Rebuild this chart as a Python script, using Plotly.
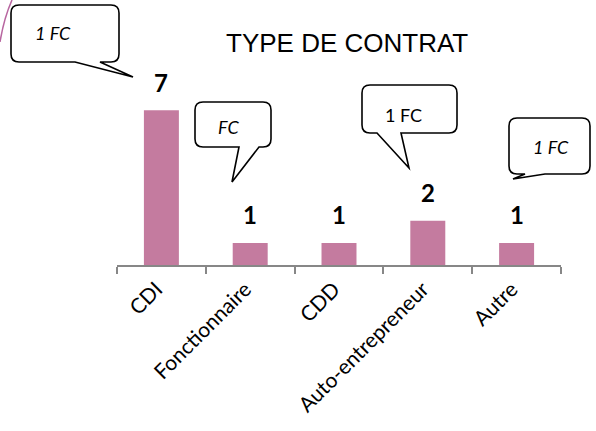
import plotly.graph_objects as go

categories = ["CDI", "Fonctionnaire", "CDD", "Auto-entrepreneur", "Autre"]
values = [7, 1, 1, 2, 1]
title_text = "TYPE DE CONTRAT"
callout_texts = ["1 FC", "FC", "1 FC", "1 FC"]
callout_italic = [True, True, False, True]

W, H = 596, 431
BAR_COLOR = "#C47B9F"

def px(x):
    return x / W

def py(y):
    return 1 - y / H

fig = go.Figure()
fig.add_trace(go.Bar(
    x=categories, y=values, marker=dict(color=BAR_COLOR, line=dict(width=0)),
    hoverinfo="skip",
))

annotations = []
for c, v in zip(categories, values):
    annotations.append(dict(
        x=c, y=v, xref="x", yref="y", text=f"<b>{v}</b>", showarrow=False,
        yanchor="middle", yshift=28, font=dict(family="Lato", size=24, color="black"),
    ))

annotations.append(dict(
    x=px(346.5), y=py(43), xref="paper", yref="paper", text=title_text,
    showarrow=False, xanchor="center", yanchor="middle",
    font=dict(family="Liberation Sans, Arial", size=26, color="black"),
))

# callouts: (left, top, right, bottom, tail_base_x1, tail_base_x2, tip_x, tip_y, text_x, text_y)
callouts = [
    (11, 5, 119, 62, 75, 100, 133, 77, 53, 33),
    (195, 102, 271, 147, 239, 259, 232, 182, 228, 127),
    (362, 85, 457, 133, 377, 401, 409, 168, 403, 115),
    (509, 118, 590, 174, 525, 545, 513, 179, 551, 147),
]

def P(x, y):
    return f"{px(x):.5f},{py(y):.5f}"

shapes = []
r = 8
for (l, t, rr, b, b1, b2, tx, ty, _, _) in callouts:
    path = (
        f"M {P(l + r, t)} L {P(rr - r, t)} Q {P(rr, t)} {P(rr, t + r)} "
        f"L {P(rr, b - r)} Q {P(rr, b)} {P(rr - r, b)} "
        f"L {P(b2, b)} L {P(tx, ty)} L {P(b1, b)} "
        f"L {P(l + r, b)} Q {P(l, b)} {P(l, b - r)} "
        f"L {P(l, t + r)} Q {P(l, t)} {P(l + r, t)} Z"
    )
    shapes.append(dict(type="path", xref="paper", yref="paper", path=path,
                       line=dict(color="black", width=1.6), fillcolor="white"))

for (c, txt, it) in zip(callouts, callout_texts, callout_italic):
    annotations.append(dict(
        x=px(c[8]), y=py(c[9]), xref="paper", yref="paper",
        text=f"<i>{txt}</i>" if it else txt, showarrow=False,
        xanchor="center", yanchor="middle",
        font=dict(family="Lato", size=18, color="black"),
    ))

# decorative arc at the top-left corner
shapes.append(dict(type="path", xref="paper", yref="paper",
                   path=f"M {P(12, 0)} Q {P(4, 18)} {P(0, 42)}",
                   line=dict(color="#B866A0", width=1.5)))

fig.update_layout(
    width=W, height=H, template="none",
    margin=dict(l=0, r=0, t=0, b=0),
    paper_bgcolor="white", plot_bgcolor="white",
    showlegend=False, bargap=0.606,
    xaxis=dict(
        domain=[px(117), px(561)], range=[-0.5, 4.5], type="category",
        showline=True, linecolor="#878787", linewidth=1.5,
        ticks="outside", tickson="boundaries", ticklen=7, tickcolor="#878787", tickwidth=1.5,
        tickangle=-45, tickfont=dict(family="Lato", size=21, color="black"),
        ticklabelshift=-5, ticklabelstandoff=2,
        showgrid=False, zeroline=False, automargin=False,
    ),
    yaxis=dict(
        domain=[py(265), py(88)], range=[0, 8], visible=False,
        showgrid=False, zeroline=False, automargin=False,
    ),
    annotations=annotations, shapes=shapes,
)

fig.write_html("out.html", config={"displayModeBar": False},
               post_script="document.body.style.margin='0';document.body.style.overflow='hidden';")
